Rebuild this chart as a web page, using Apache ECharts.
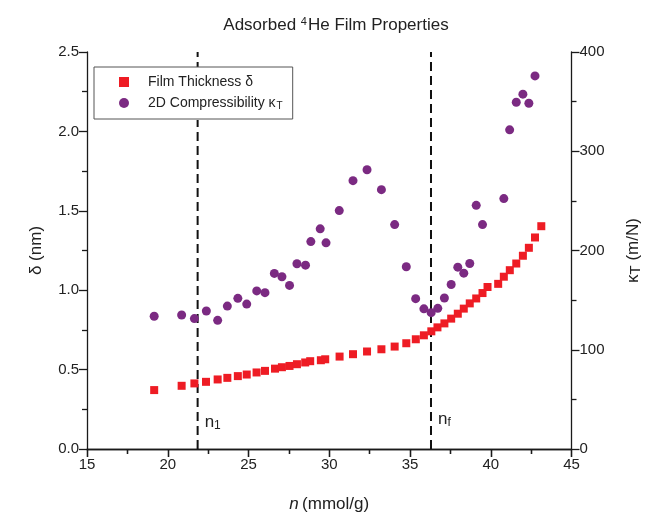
<!DOCTYPE html>
<html><head><meta charset="utf-8">
<script src="https://cdn.jsdelivr.net/npm/echarts@6/dist/echarts.min.js"></script>
<style>html,body{margin:0;padding:0;background:#fff}#c{width:669px;height:518px}</style>
</head><body><div id="c"></div>
<script>
// Film thickness δ (nm) vs n (mmol/g)
const nThick = [19.16,20.86,21.65,22.37,23.09,23.69,24.34,24.89,25.50,26.02,26.64,27.07,27.54,28.00,28.51,28.82,29.48,29.75,30.64,31.47,32.34,33.23,34.05,34.77,35.36,35.86,36.32,36.70,37.13,37.55,37.96,38.33,38.70,39.10,39.49,39.80,40.46,40.81,41.18,41.58,41.99,42.36,42.74,43.13];
const delta  = [0.371,0.398,0.413,0.423,0.438,0.448,0.459,0.469,0.482,0.492,0.506,0.515,0.523,0.534,0.545,0.553,0.559,0.565,0.582,0.597,0.614,0.628,0.645,0.666,0.691,0.716,0.741,0.766,0.791,0.821,0.852,0.884,0.917,0.948,0.982,1.02,1.04,1.085,1.126,1.168,1.217,1.267,1.332,1.403];
// 2D compressibility κT (m/N) vs n (mmol/g)
const nComp = [19.16,20.86,21.65,22.39,23.09,23.69,24.34,24.89,25.51,26.02,26.60,27.07,27.54,28.00,28.53,28.86,29.44,29.80,30.62,31.47,32.34,33.23,34.05,34.77,35.35,35.86,36.31,36.72,37.13,37.55,37.96,38.33,38.70,39.10,39.49,40.81,41.17,41.58,41.99,42.36,42.74];
const kappa = [133.7,135.0,131.4,139.0,129.6,144.0,151.8,146.0,159.3,157.5,176.9,173.6,164.8,186.6,185.2,209.0,221.8,207.7,240.2,270.4,281.4,261.3,226.1,183.6,151.5,141.2,137.4,141.7,152.1,165.8,183.2,177.2,186.9,245.5,226.1,252.3,321.6,349.4,357.5,348.4,375.9];
// Marked densities
const markN = [21.85, 36.3];
const markLabels = ['1', 'f'];
const xTicks = {min: 15, max: 45, interval: 5};
const yLeftTicks = {min: 0, max: 2.5, interval: 0.5};
const yRightTicks = {min: 0, max: 400, interval: 100};

const FONT = 'Liberation Sans, Arial, sans-serif';
const AX = '#1a1a1a';
const chart = echarts.init(document.getElementById('c'), null, {renderer: 'canvas'});

const axisCommon = {
  axisLine: {show: true, lineStyle: {color: AX, width: 1.3}},
  axisTick: {show: true, length: 8, lineStyle: {color: AX, width: 1.3}},
  minorTick: {show: true, splitNumber: 2, length: 5, lineStyle: {color: AX, width: 1.3}},
  splitLine: {show: false},
  axisLabel: {color: '#222', fontSize: 15, fontFamily: FONT}
};

const dashSeries = markN.map((v, i) => ({
  name: 'mark' + i, type: 'line', xAxisIndex: 0, yAxisIndex: 0,
  data: [[v, yLeftTicks.min], [v, yLeftTicks.max]],
  showSymbol: false, symbol: 'none', silent: true, z: 1,
  lineStyle: {color: '#111', width: 2, type: [9, 5]},
  markPoint: {
    symbol: 'circle', symbolSize: 0, silent: true,
    label: {show: true, position: 'right', distance: 7,
      formatter: '{n|n}{s|' + markLabels[i] + '}',
      rich: {n: {fontSize: 17, color: '#222', fontFamily: FONT}, s: {fontSize: 12, color: '#222', fontFamily: FONT, padding: [8, 0, 0, 0]}}},
    data: [{coord: [v, i === 0 ? 0.17 : 0.19]}]
  }
}));

chart.setOption({
  animation: false,
  backgroundColor: '#fff',
  textStyle: {fontFamily: FONT},
  title: {
    text: '{a|Adsorbed }{s|4}{a|He Film Properties}',
    left: 331, top: 11, textAlign: 'center',
    textStyle: {fontWeight: 'normal', rich: {
      a: {fontSize: 17, color: '#222', fontFamily: FONT, fontWeight: 'normal'},
      s: {fontSize: 11, color: '#222', fontFamily: FONT, fontWeight: 'normal', padding: [0, 1, 8, 0]}
    }}
  },
  graphic: [{
    type: 'rect', left: 94, top: 67, z: 15, silent: true,
    shape: {width: 199, height: 53},
    style: {fill: '#ffffff', stroke: null}
  }],
  legend: {
    orient: 'vertical', left: 94, top: 67, z: 20,
    padding: [8, 10, 8, 25], itemGap: 7,
    itemWidth: 10, itemHeight: 10,
    backgroundColor: '#fff', borderColor: '#555', borderWidth: 1, borderRadius: 0,
    textStyle: {fontSize: 14, color: '#222', fontFamily: FONT,
      rich: {a: {fontSize: 14, color: '#222', fontFamily: FONT, padding: [0, 0, 0, 14]},
             t: {fontSize: 10, color: '#222', fontFamily: FONT, padding: [6, 0, 0, 1]}}},
    formatter: function (name) {
      return name === 'film' ? '{a|Film Thickness δ}' : '{a|2D Compressibility κ}{t|T}';
    },
    data: [{name: 'film', icon: 'rect'}, {name: 'comp', icon: 'circle'}]
  },
  grid: {left: 87, right: 97.5, top: 52, bottom: 68},
  xAxis: [
    Object.assign({}, axisCommon, {
      type: 'value', position: 'bottom', min: xTicks.min, max: xTicks.max, interval: xTicks.interval,
      name: '{i|n} {a|(mmol/g)}', nameLocation: 'middle', nameGap: 47,
      nameTextStyle: {rich: {i: {fontSize: 17, fontStyle: 'italic', color: '#222', fontFamily: FONT}, a: {fontSize: 17, color: '#222', fontFamily: FONT}}},
      axisLabel: Object.assign({}, axisCommon.axisLabel, {margin: 8})
    }),
    Object.assign({}, axisCommon, {
      type: 'value', position: 'top', min: xTicks.min, max: xTicks.max, interval: xTicks.interval,
      axisLabel: {show: false},
      axisTick: {show: true, inside: true, length: 8, lineStyle: {color: AX, width: 1.3}}
    })
  ],
  yAxis: [
    Object.assign({}, axisCommon, {
      type: 'value', position: 'left', min: yLeftTicks.min, max: yLeftTicks.max, interval: yLeftTicks.interval,
      name: 'δ (nm)', nameLocation: 'middle', nameGap: 42, nameRotate: 90,
      nameTextStyle: {fontSize: 17, color: '#222', fontFamily: FONT},
      axisLabel: Object.assign({}, axisCommon.axisLabel, {formatter: v => v.toFixed(1), margin: 8})
    }),
    Object.assign({}, axisCommon, {
      type: 'value', position: 'right', min: yRightTicks.min, max: yRightTicks.max, interval: yRightTicks.interval,
      name: '{k|κ}{t|T}{k| (m/N)}', nameLocation: 'middle', nameGap: 52, nameRotate: 90,
      nameTextStyle: {rich: {k: {fontSize: 17, color: '#222', fontFamily: FONT}, t: {fontSize: 15, color: '#222', fontFamily: FONT, padding: [5, 0, 0, 0]}}},
      axisLabel: Object.assign({}, axisCommon.axisLabel, {margin: 8})
    })
  ],
  series: dashSeries.concat([
    {
      name: 'film', type: 'scatter', xAxisIndex: 0, yAxisIndex: 0,
      symbol: 'rect', symbolSize: 8,
      itemStyle: {color: '#EE1C24', opacity: 1},
      data: nThick.map((x, i) => [x, delta[i]]),
      z: 3
    },
    {
      name: 'comp', type: 'scatter', xAxisIndex: 0, yAxisIndex: 1,
      symbol: 'circle', symbolSize: 9,
      itemStyle: {color: '#7B2A82', opacity: 1},
      data: nComp.map((x, i) => [x, kappa[i]]),
      z: 4
    }
  ])
});
</script></body></html>
